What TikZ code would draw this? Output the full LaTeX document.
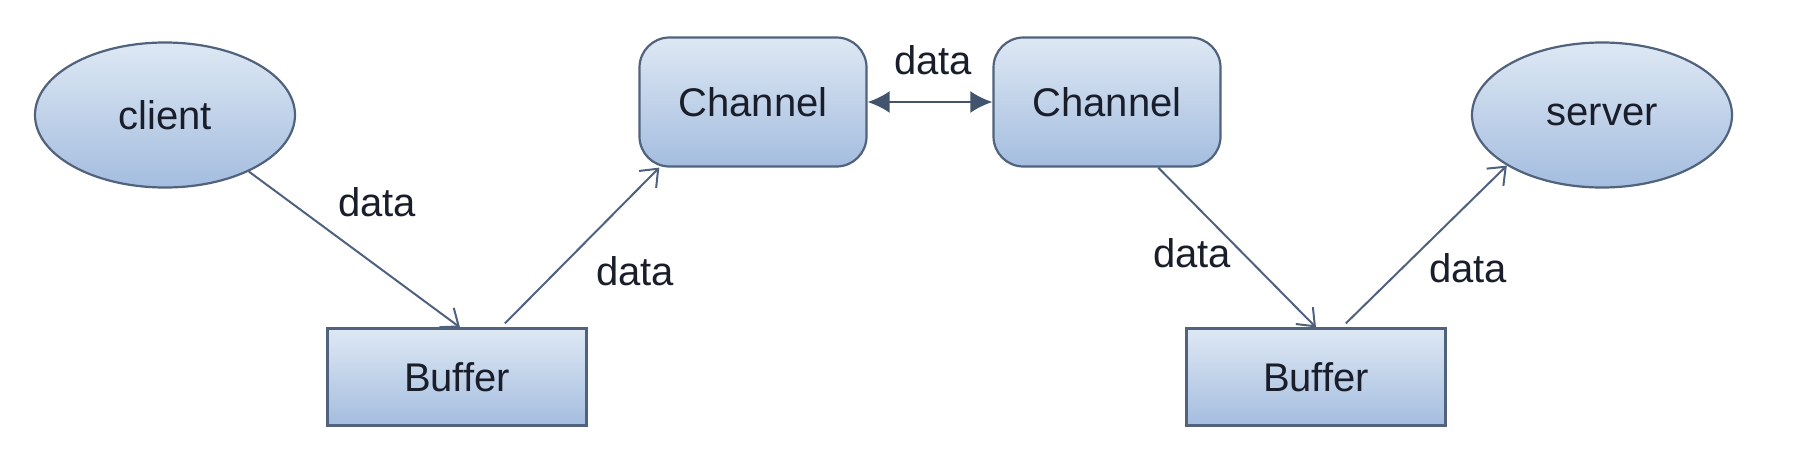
\documentclass[tikz,border=0pt]{standalone}
\usepackage{fontspec}
\setmainfont{Liberation Sans}
\usepackage{xcolor}
\usetikzlibrary{shapes.geometric, arrows.meta}

\definecolor{boxtop}{RGB}{222,232,244}
\definecolor{boxbot}{RGB}{164,189,223}
\definecolor{boxline}{RGB}{80,98,124}
\definecolor{arrowline}{RGB}{78,98,128}
\definecolor{textcol}{RGB}{26,30,42}

\begin{document}
\begin{tikzpicture}[
    x=1pt, y=-1pt,
    shaded/.style={top color=boxtop, bottom color=boxbot, draw=boxline,
                   line width=2.2pt, text=textcol,
                   font=\fontsize{40}{48}\selectfont},
    endpt/.style={ellipse, shaded, minimum width=260pt, minimum height=145pt},
    chan/.style={rectangle, rounded corners=30pt, shaded,
                 minimum width=227pt, minimum height=129pt},
    buf/.style={rectangle, shaded, minimum width=259pt, minimum height=97pt},
    arrow/.style={-{Straight Barb[length=15pt, width=24pt, line width=2pt]},
                  line width=2pt, draw=arrowline},
    both/.style={{Latex[length=22pt, width=22pt]}-{Latex[length=22pt, width=22pt]},
                 line width=2.4pt, draw=arrowline!85!black},
    lbl/.style={text=textcol, font=\fontsize{40}{48}\selectfont},
]
\useasboundingbox (0,0) rectangle (1806,464);

% nodes
\node[endpt] (client) at (165,115) {client};
\node[chan]  (ch1)    at (753,102) {Channel};
\node[chan]  (ch2)    at (1107,102) {Channel};
\node[endpt] (server) at (1602,115) {server};
\node[buf]   (buf1)   at (457,377) {Buffer};
\node[buf]   (buf2)   at (1316,377) {Buffer};

% connectors
\draw[arrow] (client.-34) -- ([xshift=3pt]buf1.north);
\draw[arrow] ([yshift=4pt]buf1.46) -- (ch1.215);
\draw[both]  (ch1.east) -- (ch2.west);
\draw[arrow] (ch2.-52) -- (buf2.north);
\draw[arrow] ([yshift=4pt]buf2.59) -- (server.208);

% labels
\node[lbl] (lab1) at (377,202) {data};
\node[lbl] (lab2) at (635,271) {data};
\node[lbl] (lab3) at (933,60)  {data};
\node[lbl] (lab4) at (1192,253) {data};
\node[lbl] (lab5) at (1468,268) {data};
\end{tikzpicture}
\end{document}
